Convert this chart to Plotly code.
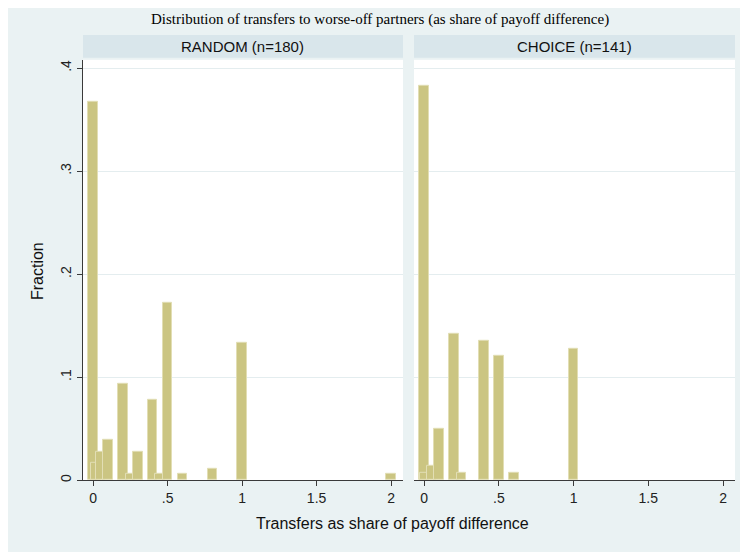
import plotly.graph_objects as go

# ---- data (fractions) ----
random_x = [0, 0.02, 0.05, 0.1, 0.2, 0.25, 0.3, 0.4, 0.45, 0.5, 0.6, 0.8, 1.0, 2.0]
random_frac = [0.367, 0.017, 0.028, 0.039, 0.094, 0.006, 0.028, 0.078, 0.006, 0.172, 0.006, 0.011, 0.133, 0.006]

choice_x = [0, 0.001, 0.05, 0.1, 0.2, 0.25, 0.4, 0.5, 0.6, 1.0]
choice_frac = [0.383, 0.007, 0.014, 0.050, 0.142, 0.007, 0.135, 0.121, 0.007, 0.128]

panel_titles = ["RANDOM (n=180)", "CHOICE (n=141)"]
x_tickvals = [0, 0.5, 1, 1.5, 2]
x_ticktext = ["0", ".5", "1", "1.5", "2"]
y_tickvals = [0, 0.1, 0.2, 0.3, 0.4]
y_ticktext = ["0", ".1", ".2", ".3", ".4"]
x_title = "Transfers as share of payoff difference"
y_title = "Fraction"
caption = "Distribution of transfers to worse-off partners (as share of payoff difference)"

W, H = 748, 552
OFF = 8  # page body margin: figure starts at (8, 8) on screen
BAR_W = 0.064
bar_fill = "rgb(203,197,130)"
bar_line = "rgb(226,222,180)"
bg = "#EAF2F3"
strip = "#D9E6EB"
grid = "#E4EDEF"
axis_col = "#3a3a3a"
font_fam = "Liberation Sans, Arial, sans-serif"

def px(x):
    return (x - OFF) / W

def py(y):
    return 1 - (y - OFF) / H

fig = go.Figure()
fig.add_trace(go.Bar(x=random_x, y=random_frac, width=[BAR_W] * len(random_x),
                     marker=dict(color=bar_fill, line=dict(color=bar_line, width=1)),
                     xaxis="x", yaxis="y", showlegend=False))
fig.add_trace(go.Bar(x=choice_x, y=choice_frac, width=[BAR_W] * len(choice_x),
                     marker=dict(color=bar_fill, line=dict(color=bar_line, width=1)),
                     xaxis="x2", yaxis="y2", showlegend=False))

xcommon = dict(range=[-0.068, 2.08], tickvals=x_tickvals, ticktext=x_ticktext,
               ticks="outside", ticklen=5, tickcolor=axis_col, showline=True,
               linecolor=axis_col, linewidth=1, showgrid=False, zeroline=False,
               tickfont=dict(family=font_fam, size=14, color="#222"), fixedrange=True)
ycommon = dict(range=[0, 0.408], tickvals=y_tickvals, showgrid=True, gridcolor=grid,
               gridwidth=1, zeroline=False, fixedrange=True)

y0, y1 = 60, 482
fig.update_layout(
    width=W, height=H,
    margin=dict(l=0, r=0, t=0, b=0),
    paper_bgcolor=bg, plot_bgcolor="white",
    barmode="overlay", bargap=0,
    xaxis=dict(domain=[px(83), px(403)], anchor="y", **xcommon),
    xaxis2=dict(domain=[px(414), px(735)], anchor="y2", **xcommon),
    yaxis=dict(domain=[py(y1), py(y0)], anchor="x", ticktext=y_ticktext, tickangle=-90,
               ticks="outside", ticklen=5, tickcolor=axis_col, showline=True,
               linecolor=axis_col, linewidth=1,
               tickfont=dict(family=font_fam, size=14, color="#222"), **ycommon),
    yaxis2=dict(domain=[py(y1), py(y0)], anchor="x2", showticklabels=False,
                ticks="", showline=False, **ycommon),
    shapes=[
        dict(type="rect", xref="paper", yref="paper", x0=px(83), x1=px(403),
             y0=py(58), y1=py(35), fillcolor=strip, line=dict(width=0), layer="above"),
        dict(type="rect", xref="paper", yref="paper", x0=px(414), x1=px(735),
             y0=py(58), y1=py(35), fillcolor=strip, line=dict(width=0), layer="above"),
    ],
    annotations=[
        dict(text=panel_titles[0], xref="paper", yref="paper", x=px(243), y=py(46.5),
             showarrow=False, xanchor="center", yanchor="middle",
             font=dict(family=font_fam, size=15, color="#111")),
        dict(text=panel_titles[1], xref="paper", yref="paper", x=px(574.5), y=py(46.5),
             showarrow=False, xanchor="center", yanchor="middle",
             font=dict(family=font_fam, size=15, color="#111")),
        dict(text=x_title, xref="paper", yref="paper", x=px(393), y=py(525),
             showarrow=False, xanchor="center", yanchor="middle",
             font=dict(family=font_fam, size=16, color="#111")),
        dict(text=y_title, xref="paper", yref="paper", x=px(37), y=py(272),
             showarrow=False, xanchor="center", yanchor="middle", textangle=-90,
             font=dict(family=font_fam, size=16, color="#111")),
        dict(text=caption, xref="paper", yref="paper", x=px(380), y=py(20),
             showarrow=False, xanchor="center", yanchor="middle",
             font=dict(family="Liberation Serif, Times New Roman, serif", size=15, color="#000")),
    ],
)

fig.write_html("out.html")
